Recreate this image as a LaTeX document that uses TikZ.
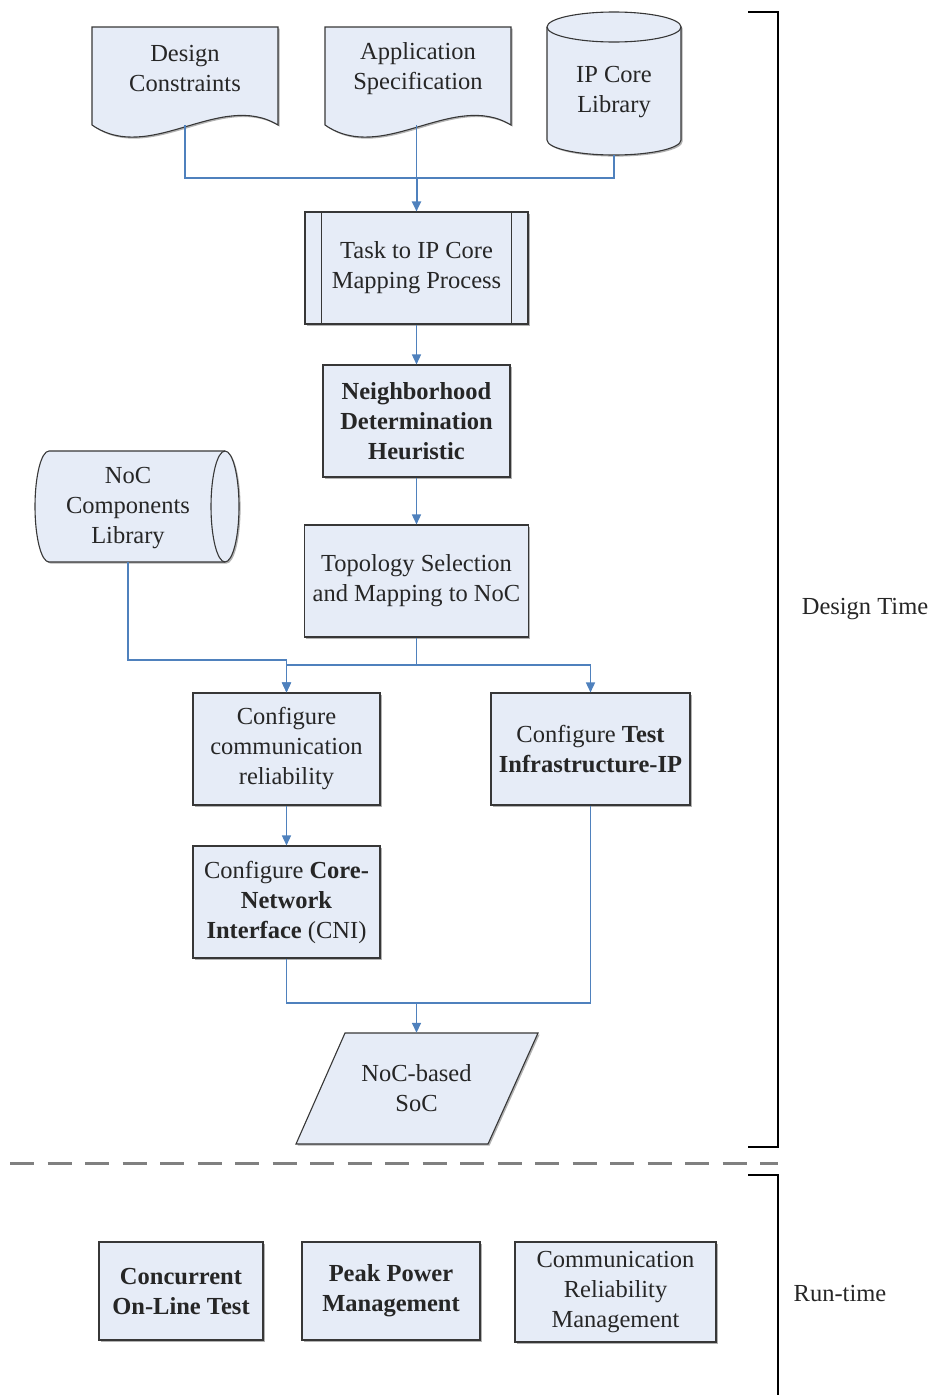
\documentclass[tikz,border=0pt]{standalone}
\usepackage{fontspec}
\setmainfont{Liberation Serif}
\usetikzlibrary{arrows.meta,shadows,backgrounds}
\definecolor{boxfill}{RGB}{230,236,247}
\definecolor{boxline}{RGB}{55,55,55}
\definecolor{flow}{RGB}{79,129,189}
\definecolor{sepgray}{RGB}{128,128,128}

\begin{document}
\begin{tikzpicture}[x=1pt,y=-1pt,
  font=\fontsize{24.5}{30}\selectfont,
  shade/.style={drop shadow={shadow xshift=1.6pt,shadow yshift=-1.6pt,opacity=0.3,fill=black}},
  box/.style={draw=boxline,fill=boxfill,line width=1.1pt,shade,align=center,inner sep=0pt,text=black!85},
  label/.style={align=center,inner sep=0pt,text=black!85},
  outline/.style={draw=boxline,fill=boxfill,line width=1.1pt,shade},
  rim/.style={draw=boxline,line width=1.1pt},
  flowline/.style={draw=flow,line width=1.5pt},
  flowarrow/.style={flowline,-{Triangle[length=10pt,width=9pt]}},
  bracket/.style={draw=black,line width=1.6pt},
]
\useasboundingbox (0,0) rectangle (935,1395);

% ---------- inputs ----------
\node[label] (dc) at (185,69) {Design\\Constraints};
\node[label] (as) at (418,69) {Application\\Specification};
\node[label] (ip) at (614,92) {IP Core\\Library};
\coordinate (dcb) at (185,125);
\coordinate (asb) at (416.5,125);
\coordinate (ipb) at (614,155);

\begin{scope}[on background layer]
  % document shapes with wavy lower edge
  \path[outline] (92,27) -- (278,27) -- (278,125)
    .. controls (220,90) and (150,165) .. (92,125) -- cycle;
  \path[outline] (325,27) -- (511,27) -- (511,125)
    .. controls (453,90) and (383,165) .. (325,125) -- cycle;
  % stored data cylinder
  \path[outline] (547,27) -- (547,140)
    arc[start angle=180,end angle=0,x radius=67,y radius=15] -- (681,27)
    arc[start angle=360,end angle=180,x radius=67,y radius=15] -- cycle;
  \draw[rim] (547,27) arc[start angle=180,end angle=0,x radius=67,y radius=15];
\end{scope}

% ---------- main flow ----------
\node[box,minimum width=223,minimum height=112] (task) at (416.5,268) {Task to IP Core\\Mapping Process};
\draw[rim] ([xshift=17pt]task.north west) -- ([xshift=17pt]task.south west)
  ([xshift=-17pt]task.north east) -- ([xshift=-17pt]task.south east);
\node[box,minimum width=187,minimum height=112] (nbh) at (416.5,421)
  {\textbf{Neighborhood}\\\textbf{Determination}\\\textbf{Heuristic}};
\node[box,minimum width=224,minimum height=112] (topo) at (416.5,581)
  {Topology Selection\\and Mapping to NoC};

% horizontal cylinder
\node[label,minimum width=176,minimum height=111] (noc) at (128,508.5)
  {NoC\\Components\\Library};
\coordinate (nocb) at (128,562);
\begin{scope}[on background layer]
  \path[outline] (225,451) -- (49,451)
    arc[start angle=270,end angle=90,x radius=14,y radius=55.5] -- (225,562)
    arc[start angle=90,end angle=-90,x radius=14,y radius=55.5] -- cycle;
  \draw[rim] (225,451) arc[start angle=270,end angle=90,x radius=14,y radius=55.5];
\end{scope}

\node[box,minimum width=187,minimum height=112] (ccr) at (286.5,749)
  {Configure\\communication\\reliability};
\node[box,minimum width=199,minimum height=112] (tip) at (590.5,749)
  {Configure \textbf{Test}\\\textbf{Infrastructure-IP}};
\node[box,minimum width=187,minimum height=112] (cni) at (286.5,902)
  {Configure \textbf{Core-}\\\textbf{Network}\\\textbf{Interface} (CNI)};

% output parallelogram
\node[label,minimum width=150,minimum height=111] (soc) at (416.5,1088.5) {NoC-based\\SoC};
\begin{scope}[on background layer]
  \path[outline] (345,1033) -- (538,1033) -- (488,1144) -- (296,1144) -- cycle;
\end{scope}

% ---------- connectors ----------
\coordinate (j1) at (416.5,178);
\coordinate (nj) at (286.5,660);
\coordinate (tj) at (416.5,665);
\coordinate (sj) at (416.5,1003);
\draw[flowline] (dcb) |- (j1);
\draw[flowline] (ipb) |- (j1);
\draw[flowline] (asb) -- (j1);
\draw[flowarrow,line width=2pt] (j1) -- (task.north);
\draw[flowarrow] (task.south) -- (nbh.north);
\draw[flowarrow] (nbh.south) -- (topo.north);
\draw[flowarrow] (nocb) |- (nj) -- (ccr.north);
\draw[flowarrow] (topo.south) -- (tj) -| (ccr.north);
\draw[flowarrow] (tj) -| (tip.north);
\draw[flowarrow] (ccr.south) -- (cni.north);
\draw[flowline] (cni.south) |- (sj);
\draw[flowline] (tip.south) |- (sj);
\draw[flowarrow] (sj) -- (soc.north);

% ---------- phase brackets ----------
\coordinate (dtt) at (748,12);
\coordinate (dtb) at (748,1147);
\coordinate (rtt) at (748,1175);
\coordinate (rte) at (778,1400);
\draw[bracket] (dtt) -- ++(30,0) |- (dtb);
\draw[bracket] (rtt) -- ++(30,0) -- (rte);
\node[label] (dt) at (865,609) {Design Time};
\node[label] (rt) at (840,1293) {Run-time};
\coordinate (sepl) at (10,1163);
\coordinate (sepr) at (778,1163);
\draw[sepgray,line width=3pt,dash pattern=on 24pt off 13.5pt] (sepl) -- (sepr);

% ---------- run-time blocks ----------
\node[box,minimum width=164,minimum height=98] (col) at (181,1291)
  {\textbf{Concurrent}\\\textbf{On-Line Test}};
\node[box,minimum width=178,minimum height=98] (ppm) at (391,1291)
  {\textbf{Peak Power}\\\textbf{Management}};
\node[box,minimum width=201,minimum height=100] (crm) at (615.5,1292)
  {Communication\\Reliability\\Management};
\end{tikzpicture}
\end{document}
